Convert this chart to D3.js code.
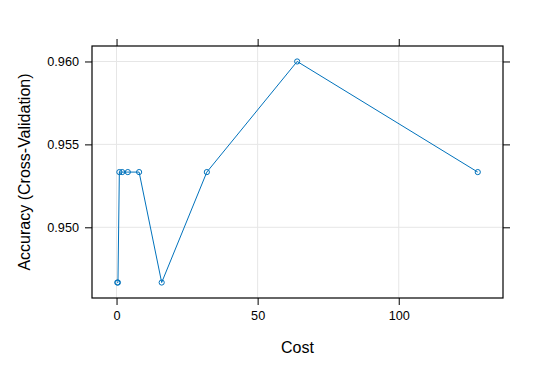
<!DOCTYPE html>
<html>
<head>
<meta charset="utf-8">
<script src="https://cdn.jsdelivr.net/npm/d3@7"></script>
<style>
  body { margin: 0; background: #fff; }
  text { font-family: "Liberation Sans", Arial, sans-serif; }
</style>
</head>
<body>
<div id="chart"></div>
<script>
const cost = [0.25, 0.5, 1, 2, 4, 8, 16, 32, 64, 128];
const accuracy = [0.94667, 0.94667, 0.95333, 0.95333, 0.95333, 0.95333, 0.94667, 0.95333, 0.96, 0.95333];
const xTicks = [0, 50, 100];
const yTicks = [0.950, 0.955, 0.960];

const width = 542;
const height = 377;
const panel = {left: 92, right: 503, top: 46, bottom: 298};
const col = "#0072BC";

const svg = d3.select("#chart")
    .append("svg")
    .attr("width", width)
    .attr("height", height);

// lattice-style 7% padding
const xExt = d3.extent(cost);
const yExt = d3.extent(accuracy);
const xPad = (xExt[1] - xExt[0]) * 0.07;
const yPad = (yExt[1] - yExt[0]) * 0.07;

const x = d3.scaleLinear().domain([xExt[0] - xPad, xExt[1] + xPad]).range([panel.left, panel.right]);
const y = d3.scaleLinear().domain([yExt[0] - yPad, yExt[1] + yPad]).range([panel.bottom, panel.top]);

// Grid.
svg.append("g")
    .selectAll("line.gx")
    .data(xTicks)
    .enter()
    .append("line")
    .attr("x1", d => x(d)).attr("x2", d => x(d))
    .attr("y1", panel.top).attr("y2", panel.bottom)
    .attr("stroke", "#e6e6e6");

svg.append("g")
    .selectAll("line.gy")
    .data(yTicks)
    .enter()
    .append("line")
    .attr("x1", panel.left).attr("x2", panel.right)
    .attr("y1", d => y(d)).attr("y2", d => y(d))
    .attr("stroke", "#e6e6e6");

// Axes, ticks on all four sides, labels bottom and left.
const tickLen = 7;
const styleAxis = g => {
    g.select(".domain").remove();
    g.selectAll(".tick line").attr("stroke", "#000");
    g.selectAll(".tick text").attr("font-size", "12.7px").attr("fill", "#000");
};

svg.append("g")
    .attr("transform", `translate(0,${panel.bottom})`)
    .call(d3.axisBottom(x).tickValues(xTicks).tickSize(tickLen).tickPadding(6).tickFormat(d3.format("d")))
    .call(styleAxis);

svg.append("g")
    .attr("transform", `translate(0,${panel.top})`)
    .call(d3.axisTop(x).tickValues(xTicks).tickSize(tickLen).tickFormat(""))
    .call(styleAxis);

svg.append("g")
    .attr("transform", `translate(${panel.left},0)`)
    .call(d3.axisLeft(y).tickValues(yTicks).tickSize(tickLen).tickPadding(6).tickFormat(d3.format(".3f")))
    .call(styleAxis);

svg.append("g")
    .attr("transform", `translate(${panel.right},0)`)
    .call(d3.axisRight(y).tickValues(yTicks).tickSize(tickLen).tickFormat(""))
    .call(styleAxis);

// Panel border.
svg.append("rect")
    .attr("x", panel.left)
    .attr("y", panel.top)
    .attr("width", panel.right - panel.left)
    .attr("height", panel.bottom - panel.top)
    .attr("fill", "none")
    .attr("stroke", "#000")
    .attr("stroke-width", 1.2);

// Line and points.
const data = cost.map((c, i) => ({c: c, a: accuracy[i]}));

svg.append("path")
    .datum(data)
    .attr("d", d3.line().x(d => x(d.c)).y(d => y(d.a)))
    .attr("fill", "none")
    .attr("stroke", col)
    .attr("stroke-width", 1);

svg.selectAll("circle.pt")
    .data(data)
    .enter()
    .append("circle")
    .attr("class", "pt")
    .attr("cx", d => x(d.c))
    .attr("cy", d => y(d.a))
    .attr("r", 2.6)
    .attr("fill", "none")
    .attr("stroke", col)
    .attr("stroke-width", 1);

// Axis titles.
svg.append("text")
    .attr("x", (panel.left + panel.right) / 2)
    .attr("y", 353)
    .attr("text-anchor", "middle")
    .attr("font-size", "16px")
    .text("Cost");

svg.append("text")
    .attr("transform", `translate(30,${(panel.top + panel.bottom) / 2}) rotate(-90)`)
    .attr("text-anchor", "middle")
    .attr("font-size", "16px")
    .text("Accuracy (Cross-Validation)");
</script>
</body>
</html>
